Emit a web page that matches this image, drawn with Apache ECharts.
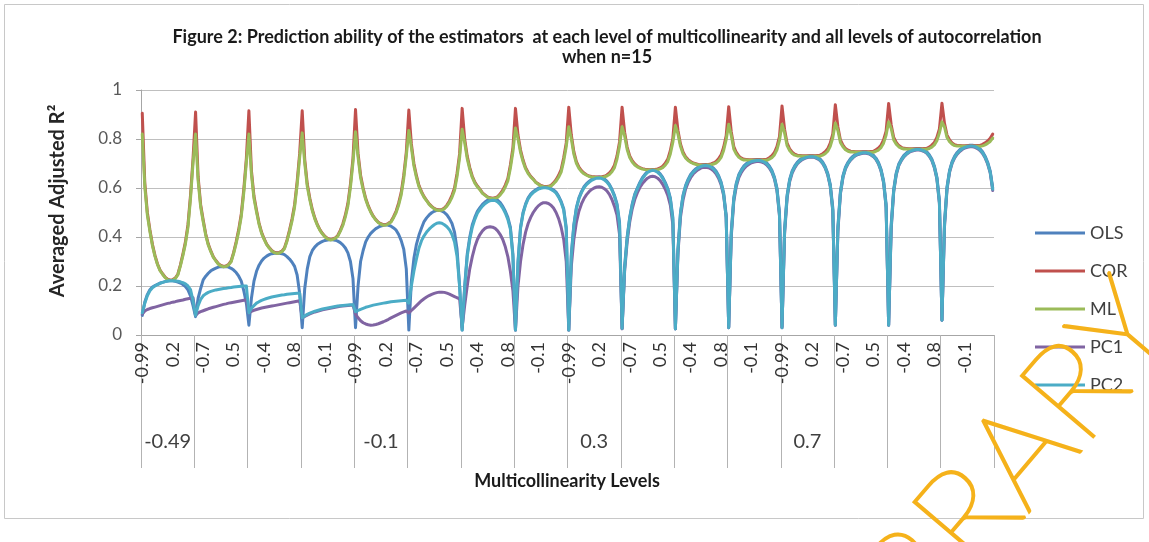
<!DOCTYPE html>
<html>
<head>
<meta charset="utf-8">
<script src="https://cdn.jsdelivr.net/npm/echarts@6/dist/echarts.min.js"></script>
<style>
html,body{margin:0;padding:0;background:#fff;}
#chart{width:1149px;height:542px;}
</style>
</head>
<body>
<div id="chart"></div>
<script>
// Autocorrelation levels (inner category level) and multicollinearity levels (outer level)
const autoLevels = [-0.99,-0.9,-0.8,-0.7,-0.6,-0.5,-0.4,-0.3,-0.2,-0.1,0,0.1,0.2,0.3,0.4,0.5,0.6,0.7,0.8,0.9,0.99];
const mcLevels = [-0.49,-0.4,-0.3,-0.2,-0.1,0,0.1,0.2,0.3,0.4,0.5,0.6,0.7,0.8,0.9,0.99];
const yTicks = [0,0.2,0.4,0.6,0.8,1];
const seriesNames = ['OLS','COR','ML','PC1','PC2'];

const olsValues = [
0.08,0.135,0.165,0.185,0.196,0.202,0.207,0.212,0.215,0.218,0.22,0.222,0.221,0.219,0.216,0.212,0.206,0.198,0.184,0.16,0.12,
0.075,0.15,0.19,0.225,0.24,0.252,0.262,0.268,0.273,0.277,0.279,0.28,0.279,0.277,0.272,0.265,0.255,0.24,0.22,0.18,0.13,
0.04,0.15,0.22,0.26,0.285,0.302,0.314,0.322,0.328,0.332,0.334,0.335,0.334,0.332,0.328,0.32,0.31,0.297,0.28,0.245,0.17,
0.03,0.19,0.27,0.32,0.345,0.36,0.37,0.377,0.382,0.386,0.388,0.39,0.389,0.387,0.383,0.377,0.368,0.355,0.335,0.3,0.23,
0.03,0.2,0.3,0.345,0.38,0.4,0.415,0.425,0.434,0.44,0.445,0.448,0.45,0.448,0.444,0.437,0.428,0.41,0.385,0.35,0.27,
0.02,0.22,0.313,0.37,0.408,0.437,0.463,0.478,0.49,0.499,0.505,0.509,0.51,0.506,0.5,0.49,0.475,0.455,0.42,0.35,0.2,
0.02,0.2,0.33,0.4,0.45,0.48,0.505,0.52,0.533,0.543,0.55,0.555,0.557,0.556,0.55,0.54,0.525,0.505,0.48,0.44,0.33,
0.02,0.3,0.44,0.5,0.535,0.56,0.575,0.585,0.593,0.599,0.603,0.605,0.605,0.603,0.598,0.592,0.583,0.567,0.545,0.515,0.44,
0.02,0.33,0.45,0.52,0.56,0.585,0.605,0.618,0.627,0.635,0.64,0.644,0.645,0.643,0.637,0.628,0.615,0.595,0.57,0.535,0.46,
0.027,0.28,0.4,0.48,0.535,0.575,0.6,0.623,0.642,0.656,0.667,0.673,0.676,0.674,0.668,0.658,0.643,0.623,0.598,0.56,0.48,
0.025,0.35,0.5,0.57,0.61,0.635,0.655,0.668,0.678,0.686,0.692,0.695,0.696,0.694,0.689,0.681,0.669,0.651,0.624,0.58,0.49,
0.03,0.42,0.56,0.62,0.655,0.675,0.69,0.7,0.707,0.712,0.714,0.716,0.716,0.714,0.71,0.702,0.69,0.672,0.645,0.6,0.5,
0.03,0.43,0.57,0.635,0.67,0.69,0.705,0.715,0.722,0.727,0.73,0.732,0.732,0.73,0.725,0.718,0.706,0.688,0.66,0.615,0.52,
0.04,0.44,0.585,0.65,0.685,0.705,0.72,0.73,0.738,0.743,0.746,0.748,0.748,0.746,0.741,0.734,0.722,0.704,0.676,0.63,0.535,
0.04,0.45,0.595,0.662,0.698,0.718,0.733,0.743,0.751,0.756,0.759,0.761,0.761,0.759,0.755,0.748,0.736,0.718,0.69,0.645,0.55,
0.06,0.46,0.605,0.672,0.708,0.73,0.745,0.756,0.764,0.77,0.773,0.775,0.775,0.773,0.768,0.76,0.748,0.73,0.705,0.67,0.6
];

const corValues = [
0.905,0.62,0.50,0.43,0.37,0.325,0.29,0.265,0.25,0.236,0.228,0.224,0.226,0.232,0.248,0.285,0.33,0.38,0.45,0.57,0.72,
0.91,0.645,0.532,0.469,0.412,0.371,0.343,0.319,0.304,0.291,0.284,0.28,0.282,0.288,0.302,0.337,0.381,0.431,0.494,0.595,0.721,
0.915,0.671,0.567,0.509,0.457,0.419,0.393,0.371,0.357,0.345,0.338,0.335,0.337,0.342,0.355,0.387,0.428,0.474,0.532,0.625,0.741,
0.915,0.716,0.616,0.558,0.511,0.477,0.45,0.429,0.414,0.402,0.394,0.39,0.392,0.396,0.406,0.427,0.453,0.49,0.537,0.616,0.721,
0.92,0.741,0.652,0.60,0.558,0.528,0.504,0.485,0.471,0.46,0.454,0.45,0.451,0.456,0.464,0.483,0.506,0.539,0.582,0.652,0.746,
0.918,0.78,0.70,0.65,0.61,0.585,0.565,0.55,0.535,0.525,0.517,0.512,0.51,0.512,0.518,0.53,0.547,0.57,0.60,0.66,0.74,
0.925,0.80,0.73,0.683,0.648,0.624,0.608,0.595,0.58,0.572,0.564,0.56,0.558,0.56,0.565,0.576,0.591,0.612,0.639,0.694,0.764,
0.925,0.816,0.755,0.714,0.683,0.663,0.648,0.637,0.624,0.617,0.61,0.607,0.605,0.607,0.611,0.621,0.634,0.652,0.675,0.723,0.784,
0.93,0.816,0.748,0.708,0.685,0.671,0.661,0.654,0.649,0.647,0.646,0.645,0.645,0.646,0.648,0.653,0.661,0.674,0.693,0.731,0.788,
0.93,0.828,0.767,0.731,0.711,0.698,0.689,0.683,0.679,0.677,0.676,0.675,0.675,0.676,0.678,0.682,0.689,0.701,0.718,0.752,0.803,
0.93,0.836,0.78,0.747,0.728,0.716,0.708,0.702,0.699,0.696,0.695,0.695,0.695,0.696,0.698,0.702,0.708,0.719,0.735,0.766,0.813,
0.932,0.83,0.769,0.745,0.73,0.722,0.717,0.716,0.715,0.715,0.715,0.715,0.715,0.715,0.716,0.717,0.724,0.732,0.745,0.769,0.81,
0.935,0.84,0.783,0.76,0.746,0.738,0.734,0.733,0.732,0.732,0.732,0.732,0.732,0.732,0.733,0.734,0.74,0.748,0.76,0.783,0.821,
0.94,0.85,0.796,0.775,0.761,0.754,0.75,0.749,0.748,0.748,0.748,0.748,0.748,0.748,0.749,0.75,0.756,0.763,0.775,0.796,0.832,
0.945,0.858,0.806,0.786,0.773,0.766,0.762,0.761,0.76,0.76,0.76,0.76,0.76,0.76,0.761,0.762,0.767,0.775,0.786,0.806,0.841,
0.946,0.864,0.816,0.796,0.784,0.777,0.774,0.773,0.772,0.772,0.772,0.772,0.772,0.772,0.773,0.774,0.778,0.784,0.792,0.803,0.82
];

const mlValues = [
0.82,0.605,0.49,0.423,0.365,0.321,0.287,0.263,0.248,0.234,0.226,0.222,0.224,0.23,0.245,0.281,0.324,0.372,0.44,0.557,0.704,
0.82,0.63,0.522,0.462,0.407,0.367,0.34,0.317,0.302,0.289,0.282,0.278,0.28,0.286,0.299,0.333,0.375,0.423,0.484,0.582,0.705,
0.82,0.656,0.557,0.502,0.452,0.415,0.39,0.369,0.355,0.343,0.336,0.333,0.335,0.34,0.352,0.383,0.422,0.466,0.522,0.612,0.725,
0.825,0.701,0.606,0.551,0.506,0.473,0.447,0.427,0.412,0.40,0.392,0.388,0.39,0.394,0.403,0.423,0.447,0.482,0.527,0.603,0.705,
0.83,0.726,0.642,0.593,0.553,0.524,0.501,0.483,0.469,0.458,0.452,0.448,0.449,0.454,0.461,0.479,0.50,0.531,0.572,0.639,0.73,
0.835,0.765,0.69,0.643,0.605,0.581,0.562,0.548,0.533,0.523,0.515,0.51,0.508,0.51,0.515,0.526,0.541,0.562,0.59,0.647,0.724,
0.84,0.785,0.72,0.676,0.643,0.62,0.605,0.593,0.578,0.57,0.562,0.558,0.556,0.558,0.562,0.572,0.585,0.604,0.629,0.681,0.748,
0.845,0.801,0.745,0.707,0.678,0.659,0.645,0.635,0.622,0.615,0.608,0.605,0.603,0.605,0.608,0.617,0.628,0.644,0.665,0.71,0.768,
0.85,0.801,0.738,0.701,0.68,0.667,0.658,0.652,0.647,0.645,0.644,0.643,0.643,0.644,0.645,0.649,0.655,0.666,0.683,0.718,0.772,
0.85,0.813,0.757,0.724,0.706,0.694,0.686,0.681,0.677,0.675,0.674,0.673,0.673,0.674,0.675,0.678,0.683,0.693,0.708,0.739,0.787,
0.855,0.821,0.77,0.74,0.723,0.712,0.705,0.70,0.697,0.694,0.693,0.693,0.693,0.694,0.695,0.698,0.702,0.711,0.725,0.753,0.797,
0.86,0.815,0.759,0.738,0.725,0.718,0.714,0.714,0.713,0.713,0.713,0.713,0.713,0.713,0.713,0.713,0.718,0.724,0.735,0.756,0.794,
0.86,0.825,0.773,0.753,0.741,0.734,0.731,0.731,0.73,0.73,0.73,0.73,0.73,0.73,0.73,0.73,0.734,0.74,0.75,0.77,0.805,
0.865,0.835,0.786,0.768,0.756,0.75,0.747,0.747,0.746,0.746,0.746,0.746,0.746,0.746,0.746,0.746,0.75,0.755,0.765,0.783,0.816,
0.87,0.843,0.796,0.779,0.768,0.762,0.759,0.759,0.758,0.758,0.758,0.758,0.758,0.758,0.758,0.758,0.761,0.767,0.776,0.793,0.825,
0.87,0.849,0.806,0.789,0.779,0.773,0.771,0.771,0.77,0.77,0.77,0.77,0.77,0.77,0.77,0.77,0.772,0.776,0.782,0.79,0.804
];

const pc1Values = [
0.085,0.098,0.104,0.108,0.111,0.114,0.117,0.12,0.123,0.126,0.129,0.131,0.134,0.136,0.139,0.141,0.143,0.146,0.148,0.15,0.152,
0.08,0.09,0.095,0.099,0.103,0.107,0.11,0.113,0.116,0.119,0.122,0.125,0.127,0.13,0.132,0.134,0.136,0.138,0.14,0.142,0.144,
0.09,0.097,0.101,0.104,0.107,0.11,0.112,0.114,0.116,0.118,0.12,0.122,0.124,0.126,0.128,0.13,0.132,0.134,0.136,0.138,0.14,
0.07,0.076,0.081,0.086,0.09,0.094,0.097,0.1,0.103,0.105,0.107,0.109,0.111,0.113,0.115,0.117,0.118,0.119,0.12,0.121,0.122,
0.085,0.07,0.058,0.05,0.045,0.042,0.04,0.041,0.043,0.046,0.05,0.054,0.059,0.064,0.07,0.075,0.08,0.085,0.09,0.094,0.098,
0.09,0.1,0.11,0.12,0.13,0.14,0.148,0.155,0.161,0.166,0.17,0.173,0.175,0.175,0.174,0.171,0.167,0.162,0.157,0.152,0.148,
0.03,0.12,0.2,0.27,0.32,0.36,0.39,0.41,0.425,0.435,0.44,0.442,0.44,0.435,0.425,0.41,0.39,0.36,0.32,0.26,0.18,
0.02,0.2,0.3,0.37,0.42,0.455,0.48,0.5,0.515,0.527,0.535,0.54,0.54,0.537,0.53,0.518,0.5,0.475,0.44,0.39,0.3,
0.02,0.28,0.39,0.46,0.505,0.535,0.557,0.573,0.585,0.594,0.6,0.604,0.605,0.603,0.597,0.588,0.574,0.553,0.525,0.49,0.41,
0.025,0.26,0.38,0.46,0.515,0.553,0.58,0.602,0.618,0.63,0.64,0.646,0.648,0.646,0.64,0.63,0.615,0.595,0.57,0.53,0.45,
0.025,0.33,0.48,0.55,0.595,0.622,0.642,0.657,0.667,0.675,0.681,0.684,0.685,0.683,0.678,0.67,0.658,0.64,0.613,0.57,0.48,
0.03,0.4,0.545,0.607,0.643,0.664,0.679,0.69,0.697,0.703,0.706,0.708,0.708,0.706,0.702,0.694,0.682,0.664,0.637,0.59,0.485,
0.03,0.41,0.558,0.625,0.661,0.682,0.698,0.708,0.716,0.721,0.724,0.726,0.726,0.724,0.719,0.712,0.7,0.682,0.653,0.606,0.505,
0.04,0.42,0.575,0.642,0.678,0.699,0.714,0.724,0.732,0.737,0.74,0.742,0.742,0.74,0.735,0.728,0.716,0.698,0.669,0.622,0.52,
0.04,0.43,0.585,0.654,0.691,0.712,0.727,0.737,0.745,0.75,0.753,0.755,0.755,0.753,0.749,0.742,0.73,0.712,0.683,0.637,0.535,
0.06,0.44,0.595,0.664,0.701,0.723,0.738,0.749,0.757,0.763,0.766,0.768,0.768,0.766,0.761,0.753,0.741,0.723,0.698,0.662,0.59
];

const pc2Values = [
0.09,0.13,0.16,0.18,0.193,0.2,0.206,0.211,0.215,0.218,0.22,0.221,0.221,0.22,0.219,0.217,0.214,0.209,0.2,0.185,0.14,
0.08,0.12,0.145,0.16,0.168,0.174,0.178,0.181,0.184,0.186,0.188,0.19,0.191,0.193,0.194,0.196,0.197,0.198,0.199,0.2,0.2,
0.09,0.11,0.12,0.13,0.136,0.141,0.145,0.149,0.152,0.155,0.157,0.159,0.161,0.163,0.164,0.166,0.167,0.168,0.169,0.17,0.17,
0.07,0.078,0.084,0.089,0.093,0.097,0.1,0.103,0.106,0.108,0.11,0.112,0.114,0.116,0.118,0.119,0.12,0.121,0.122,0.123,0.124,
0.095,0.1,0.105,0.109,0.113,0.116,0.119,0.122,0.124,0.126,0.128,0.13,0.132,0.134,0.136,0.137,0.138,0.139,0.14,0.141,0.142,
0.13,0.2,0.26,0.31,0.355,0.385,0.405,0.42,0.432,0.442,0.45,0.456,0.458,0.456,0.45,0.442,0.43,0.41,0.38,0.32,0.2,
0.02,0.19,0.32,0.39,0.44,0.472,0.497,0.513,0.526,0.536,0.543,0.548,0.55,0.549,0.543,0.533,0.518,0.498,0.472,0.432,0.32,
0.02,0.29,0.435,0.496,0.531,0.556,0.571,0.581,0.589,0.595,0.599,0.601,0.601,0.599,0.594,0.588,0.579,0.563,0.541,0.51,0.43,
0.02,0.32,0.445,0.516,0.556,0.581,0.601,0.614,0.623,0.631,0.636,0.64,0.641,0.639,0.633,0.624,0.611,0.591,0.566,0.53,0.45,
0.027,0.27,0.395,0.476,0.531,0.571,0.596,0.619,0.638,0.652,0.663,0.669,0.672,0.67,0.664,0.654,0.639,0.619,0.594,0.555,0.47,
0.025,0.34,0.495,0.566,0.606,0.631,0.651,0.664,0.674,0.682,0.688,0.691,0.692,0.69,0.685,0.677,0.665,0.647,0.62,0.575,0.48,
0.03,0.41,0.555,0.616,0.651,0.671,0.686,0.696,0.703,0.708,0.71,0.712,0.712,0.71,0.706,0.698,0.686,0.668,0.641,0.595,0.49,
0.03,0.42,0.565,0.631,0.666,0.686,0.701,0.711,0.718,0.723,0.726,0.728,0.728,0.726,0.721,0.714,0.702,0.684,0.656,0.61,0.51,
0.04,0.43,0.58,0.646,0.681,0.701,0.716,0.726,0.734,0.739,0.742,0.744,0.744,0.742,0.737,0.73,0.718,0.7,0.672,0.625,0.525,
0.04,0.44,0.59,0.658,0.694,0.714,0.729,0.739,0.747,0.752,0.755,0.757,0.757,0.755,0.751,0.744,0.732,0.714,0.686,0.64,0.54,
0.06,0.45,0.6,0.668,0.704,0.726,0.741,0.752,0.76,0.766,0.769,0.771,0.771,0.769,0.764,0.756,0.744,0.726,0.701,0.665,0.595
];

// Build the two-level category list (multicollinearity | autocorrelation)
const categories = [];
mcLevels.forEach(function (m) { autoLevels.forEach(function (a) { categories.push(m + '|' + a); }); });

const FONT = 'Lato, "Open Sans", "Liberation Sans", sans-serif';
const colors = ['#4F81BD','#C0504D','#9BBB59','#8064A2','#4BACC6'];
const valueSets = [olsValues, corValues, mlValues, pc1Values, pc2Values];

const chart = echarts.init(document.getElementById('chart'), null, {renderer: 'canvas'});
chart.setOption({
  animation: false,
  backgroundColor: '#ffffff',
  color: colors,
  grid: {left: 141, right: 155, top: 90, bottom: 207, containLabel: false},
  graphic: [
    {type: 'rect', silent: true, z: -10, shape: {x: 4.5, y: 4.5, width: 1139, height: 514},
     style: {fill: 'none', stroke: '#c8c8c8', lineWidth: 1}},
    {type: 'text', x: 607, y: 37, silent: true,
     style: {text: 'Figure 2: Prediction ability of the estimators  at each level of multicollinearity and all levels of autocorrelation',
             textAlign: 'center', textVerticalAlign: 'middle', fill: '#1a1a1a',
             fontSize: 18, fontWeight: 'bold', fontFamily: FONT}},
    {type: 'text', x: 607, y: 57, silent: true,
     style: {text: 'when n=15', textAlign: 'center', textVerticalAlign: 'middle', fill: '#1a1a1a',
             fontSize: 18, fontWeight: 'bold', fontFamily: FONT}},
    {type: 'text', x: 567, y: 481, silent: true,
     style: {text: 'Multicollinearity Levels', textAlign: 'center', textVerticalAlign: 'middle', fill: '#1a1a1a',
             fontSize: 18, fontWeight: 'bold', fontFamily: FONT}},
    {type: 'text', x: 58, y: 201, rotation: Math.PI / 2, silent: true,
     style: {text: 'Averaged Adjusted R²', textAlign: 'center', textVerticalAlign: 'middle', fill: '#262626',
             fontSize: 20, fontWeight: 'bold', fontFamily: FONT}},
    {type: 'text', x: 1150, y: 303, rotation: 0.866, silent: true, z: 100,
     style: {text: 'LIBRARY', textAlign: 'right', textVerticalAlign: 'middle', fill: '#F5B21B',
             stroke: '#F5B21B', lineWidth: 2.5,
             fontSize: 135, fontWeight: 200, fontFamily: 'Lato, "Liberation Sans", sans-serif'}}
  ],
  legend: {
    orient: 'vertical', left: 1030, top: 219,
    itemWidth: 50, itemHeight: 3, itemGap: 20, icon: 'rect',
    textStyle: {fontSize: 18, color: '#404040', fontFamily: FONT, padding: [0,0,0,0]},
    data: seriesNames
  },
  xAxis: [
    {
      type: 'category', data: categories, boundaryGap: true, position: 'bottom',
      axisLine: {show: true, lineStyle: {color: '#a6a6a6', width: 1}},
      axisTick: {show: false},
      axisLabel: {interval: 11, rotate: 90, margin: 7, fontSize: 18, color: '#333333', fontFamily: FONT,
                  formatter: function (v) { return v.split('|')[1]; }},
      splitLine: {show: false}
    },
    {
      type: 'category', data: mcLevels.map(String), boundaryGap: true, position: 'bottom', offset: 0,
      axisLine: {show: false},
      axisTick: {show: true, interval: 0, length: 133, inside: false, lineStyle: {color: '#b3b3b3', width: 1}},
      axisLabel: {interval: 3, margin: 97, fontSize: 20, color: '#404040', fontFamily: FONT},
      splitLine: {show: false}
    }
  ],
  yAxis: {
    type: 'value', min: yTicks[0], max: yTicks[yTicks.length - 1], interval: 0.2,
    axisLine: {show: true, lineStyle: {color: '#a6a6a6'}},
    axisTick: {show: true, length: 5, lineStyle: {color: '#a6a6a6'}},
    axisLabel: {margin: 19, fontSize: 17, color: '#595959', fontFamily: FONT,
                formatter: function (v) { return String(+v.toFixed(1)); }},
    splitLine: {show: true, lineStyle: {color: '#bfbfbf', width: 1}}
  },
  series: seriesNames.map(function (name, i) {
    return {
      name: name, type: 'line', xAxisIndex: 0, yAxisIndex: 0,
      data: valueSets[i], symbol: 'none', showSymbol: false, smooth: false,
      lineStyle: {width: 3, color: colors[i], join: 'round', cap: 'round'},
      itemStyle: {color: colors[i]},
      emphasis: {disabled: true}
    };
  })
});
</script>
</body>
</html>
